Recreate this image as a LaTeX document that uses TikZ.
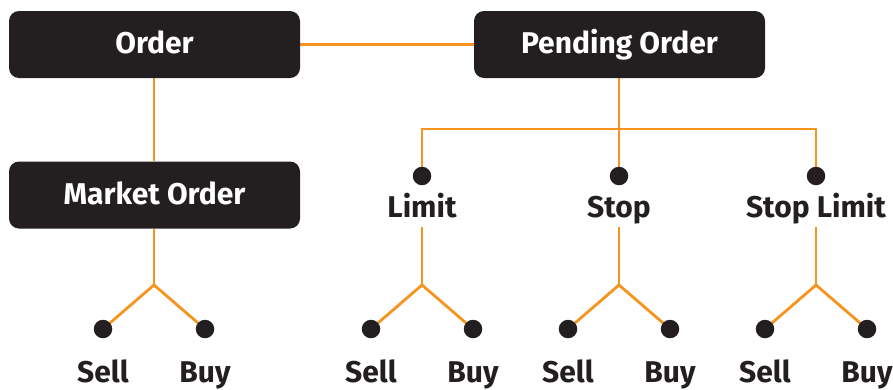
\documentclass[tikz,border=0pt]{standalone}
\usepackage{fontspec}
\setmainfont{Fira Sans}
\definecolor{boxdark}{HTML}{231F20}
\definecolor{linkorange}{HTML}{F7941D}
\pgfdeclarelayer{bg}
\pgfsetlayers{bg,main}
\tikzset{
  obox/.style={fill=boxdark, rounded corners=10pt, minimum width=291pt, minimum height=67pt,
    inner sep=0pt, text=white, font=\fontsize{30}{32}\selectfont\bfseries, text height=21pt, text depth=3pt},
  dot/.style={circle, fill=boxdark, minimum size=18.5pt, inner sep=0pt},
  lbl/.style={anchor=base, inner sep=0pt, text=boxdark, font=\fontsize{30}{32}\selectfont\bfseries},
  link/.style={draw=linkorange, line width=2.8pt}
}
\begin{document}
\begin{tikzpicture}[x=1pt, y=-1pt]
\useasboundingbox (0,0) rectangle (893,389);
% boxes
\node[obox] (order) at (154.5,44.5) {Order};
\node[obox] (pending) at (619.5,44.5) {Pending Order};
\node[obox] (market) at (154.5,195) {Market Order};
% level-2 dots and labels
\node[dot] (limdot) at (422,176) {};
\node[dot] (stopdot) at (619,176) {};
\node[dot] (sldot) at (816,176) {};
\node[lbl] (limlbl) at (422,217) {Limit};
\node[lbl] (stoplbl) at (619,217) {Stop};
\node[lbl] (sllbl) at (816,217) {Stop Limit};
\coordinate (bar) at (619,129);
% tops of stems under labels
\coordinate (limtop) at (422,227);
\coordinate (stoptop) at (619,227);
\coordinate (sltop) at (816,227);
% branch points
\coordinate (mbr) at (154,285);
\coordinate (limbr) at (422,285);
\coordinate (stopbr) at (619,285);
\coordinate (slbr) at (816,285);
% leaf dots
\foreach \n/\x in {m/154, lim/422, stop/619, sl/816}{
  \node[dot] (\n sell) at (\x-51,329) {};
  \node[dot] (\n buy) at (\x+51,329) {};
  \node[lbl] (\n selllbl) at (\x-51,382.5) {Sell};
  \node[lbl] (\n buylbl) at (\x+51,382.5) {Buy};
}
\begin{pgfonlayer}{bg}
\draw[link] (order.east) -- (pending.west);
\draw[link] (order.south -| mbr) -- (market.north -| mbr);
\draw[link] (pending.south -| bar) -- (stopdot.center);
\draw[link] (limdot.center) |- (bar) -| (sldot.center);
\draw[link] (market.south -| mbr) -- (mbr);
\draw[link] (limtop) -- (limbr);
\draw[link] (stoptop) -- (stopbr);
\draw[link] (sltop) -- (slbr);
\foreach \n in {m, lim, stop, sl}{
  \draw[link] (\n sell.center) -- (\n br) -- (\n buy.center);
}
\end{pgfonlayer}
\end{tikzpicture}
\end{document}
